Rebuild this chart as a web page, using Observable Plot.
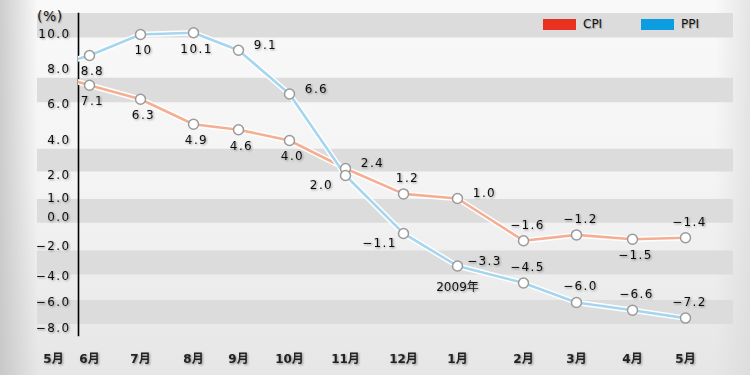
<!DOCTYPE html>
<html>
<head>
<meta charset="utf-8">
<script src="https://cdn.jsdelivr.net/npm/d3@7"></script>
<script src="https://cdn.jsdelivr.net/npm/@observablehq/plot@0.6"></script>
<style>
  html, body { margin: 0; padding: 0; }
  body {
    width: 750px; height: 375px; overflow: hidden;
    background:
      linear-gradient(to right, rgba(190,190,190,0.75) 0px, rgba(230,230,230,0) 38px, rgba(230,230,230,0) 715px, rgba(215,215,215,0.6) 750px),
      linear-gradient(to bottom, #f9f9f9 0px, #f4f4f4 180px, #e6e6e6 375px);
    font-family: "DejaVu Sans", "Noto Sans CJK SC", sans-serif;
  }
  #wrap { position: relative; width: 750px; height: 375px; }
  #wrap svg { position: absolute; left: 0; top: 0; }
  .unit { position: absolute; left: 37px; top: 8px; font-size: 14px; color: #111; letter-spacing: 0.5px; text-shadow: 1px 1px 1px rgba(0,0,0,0.3); }
  .legend { position: absolute; top: 17px; font-size: 12px; color: #111; display: flex; align-items: center; text-shadow: 1px 1px 1px rgba(0,0,0,0.3); }
  .legend .sw { width: 33px; height: 11px; display: inline-block; margin-right: 7px; }
  svg [aria-label="y-axis tick label"] text,
  svg [aria-label="text"] text { letter-spacing: 1.4px; }
  svg text.note { letter-spacing: 0px; }
</style>
</head>
<body>
<div id="wrap">
  <div class="unit">(%)</div>
  <div class="legend" style="left:543px"><span class="sw" style="background:#e8311f"></span>CPI</div>
  <div class="legend" style="left:641px"><span class="sw" style="background:#0b9de0"></span>PPI</div>
</div>
<script>
// ---- data ----
const months = ["5月", "6月", "7月", "8月", "9月", "10月", "11月", "12月", "1月", "2月", "3月", "4月", "5月"];
const cpi = [7.7, 7.1, 6.3, 4.9, 4.6, 4.0, 2.4, 1.2, 1.0, -1.6, -1.2, -1.5, -1.4];
const ppi = [8.2, 8.8, 10, 10.1, 9.1, 6.6, 2.0, -1.1, -3.3, -4.5, -6.0, -6.6, -7.2];
const cpiLabelPos = [null, "below", "below", "below", "below", "below", "right", "above", "right", "above", "above", "below", "above"];
const ppiLabelPos = [null, "below", "below", "below", "right", "right", "left", "left", "right", "above", "above", "above", "above"];
const yTicks = [10, 8, 6, 4, 2, 1, 0, -2, -4, -6, -8];
const bands = [[11.2, 9.8], [7.5, 6.1], [3.5, 2.2], [0.95, -0.4], [-2.3, -3.9], [-5.85, -7.7]];
const yearNote = [{i: 8, text: "2009年"}];

// ---- scale layout (piecewise, as in the original's hand-set axes) ----
const X_RANGE = [53, 89, 140, 193, 238, 289, 345, 403, 457, 523, 576, 632, 685];
const Y_RANGE = [34, 69, 104, 140, 175, 198, 217, 246, 276, 302, 328];

const minus = s => s.replace("-", "\u2212");
const fmtTick = v => minus(v.toFixed(1));
const fmtVal = v => minus(Number.isInteger(v) && Math.abs(v) >= 10 ? String(v) : v.toFixed(1));

const rows = months.map((m, i) => ({i, month: m, cpi: cpi[i], ppi: ppi[i], cpiPos: cpiLabelPos[i], ppiPos: ppiLabelPos[i]}));
const pts = rows.filter(d => d.i > 0);

const offsets = {
  below: {dx: 3, dy: 16},
  above: {dx: 4, dy: -16},
  right: {dx: 27, dy: -5},
  left: {dx: -24, dy: 10}
};
function labelMarks(key, posKey) {
  return Object.entries(offsets).map(([pos, o]) =>
    Plot.text(pts.filter(d => d[posKey] === pos), {
      x: "i", y: key, text: d => fmtVal(d[key]),
      dx: o.dx, dy: o.dy, fill: "#111", fontSize: 12
    })
  );
}

const chart = Plot.plot({
  width: 750,
  height: 375,
  marginLeft: 78,
  marginRight: 17,
  marginTop: 13,
  marginBottom: 40,
  style: {background: "transparent", fontFamily: "DejaVu Sans, Noto Sans CJK SC, sans-serif", fontSize: "12px", color: "#111", overflow: "visible"},
  x: {type: "linear", domain: d3.range(months.length), range: X_RANGE, axis: null},
  y: {type: "linear", domain: yTicks, range: Y_RANGE, axis: null},
  marks: [
    Plot.rect(bands, {y1: d => d[0], y2: d => d[1], fill: "#dcdcdc", insetLeft: -41}),
    Plot.axisY({ticks: yTicks, tickSize: 0, tickPadding: 8, tickFormat: fmtTick, label: null, fontSize: 12, fill: "#111"}),
    Plot.axisX({ticks: d3.range(months.length), tickSize: 0, tickPadding: 19, tickFormat: i => months[i], label: null, fontSize: 12, fontWeight: "bold", fill: "#222"}),
    Plot.frame({anchor: "left", stroke: "#000", strokeWidth: 1.6}),
    // CPI line
    Plot.line(rows, {x: "i", y: "cpi", stroke: "#ffffff", strokeWidth: 5.5, clip: "frame"}),
    Plot.line(rows, {x: "i", y: "cpi", stroke: "#f6ae93", strokeWidth: 2.6, clip: "frame"}),
    // PPI line
    Plot.line(rows, {x: "i", y: "ppi", stroke: "#ffffff", strokeWidth: 5.5, clip: "frame"}),
    Plot.line(rows, {x: "i", y: "ppi", stroke: "#a6d6ef", strokeWidth: 2.6, clip: "frame"}),
    Plot.dot(pts, {x: "i", y: "cpi", r: 5, fill: "#fff", stroke: "#9a9a9a", strokeWidth: 1.5}),
    Plot.dot(pts, {x: "i", y: "ppi", r: 5, fill: "#fff", stroke: "#9a9a9a", strokeWidth: 1.5}),
    ...labelMarks("cpi", "cpiPos"),
    ...labelMarks("ppi", "ppiPos"),
    Plot.text(yearNote, {x: "i", y: d => ppi[d.i], text: "text", dy: 21, fill: "#111", fontSize: 12})
  ]
});

// soft text shadow like the original
const ns = "http://www.w3.org/2000/svg";
const defs = document.createElementNS(ns, "defs");
defs.innerHTML = '<filter id="tsh" x="-20%" y="-40%" width="140%" height="180%"><feDropShadow dx="1" dy="1" stdDeviation="0.8" flood-color="#000" flood-opacity="0.4"/></filter>';
chart.insertBefore(defs, chart.firstChild);
chart.querySelectorAll('[aria-label="text"], [aria-label="y-axis tick label"], [aria-label="x-axis tick label"]').forEach(g => g.setAttribute("filter", "url(#tsh)"));
chart.querySelectorAll('[aria-label="text"] text').forEach(t => { if (t.textContent.includes("年")) t.setAttribute("class", "note"); });

document.getElementById("wrap").prepend(chart);
</script>
</body>
</html>
